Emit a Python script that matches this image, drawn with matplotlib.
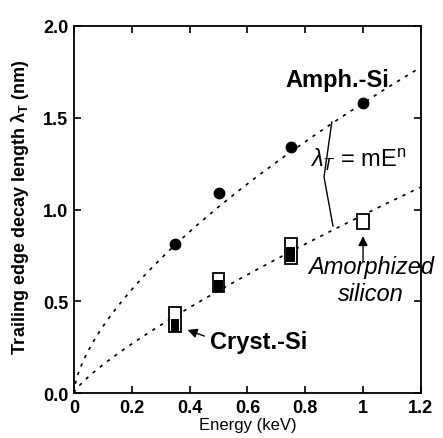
import numpy as np
import matplotlib
matplotlib.use("Agg")
import matplotlib.pyplot as plt

plt.rcParams['font.family'] = ['Liberation Sans', 'DejaVu Sans']
plt.rcParams['mathtext.fontset'] = 'custom'
plt.rcParams['mathtext.rm'] = 'Liberation Sans'
plt.rcParams['mathtext.it'] = 'Liberation Sans:italic'
plt.rcParams['mathtext.bf'] = 'Liberation Sans:bold'

# Amorphous (Amph.-Si) data, filled circles
amph_energy = [0.35, 0.5, 0.75, 1.0]
amph_decay = [0.81, 1.09, 1.34, 1.58]

# Amorphized silicon, open boxes (low / high)
amor_energy = [0.35, 0.5, 0.75, 1.0]
amor_low = [0.332, 0.55, 0.703, 0.894]
amor_high = [0.469, 0.654, 0.845, 0.975]

# Crystalline Si, filled boxes (low / high)
cryst_energy = [0.35, 0.5, 0.75]
cryst_low = [0.332, 0.55, 0.714]
cryst_high = [0.403, 0.616, 0.796]

# power law fits lambda = m E^n
amph_m, amph_n = 1.58, 0.64
cryst_m, cryst_n = 0.97, 0.80

fig = plt.figure(figsize=(4.43, 4.39), dpi=100)
ax = fig.add_axes([0.167, 0.1025, 0.783, 0.836])

e = np.linspace(0, 1.2, 300)
ax.plot(e, amph_m * e ** amph_n, color='black', lw=1.2, linestyle=(0, (2, 3.5)))
ax.plot(e, cryst_m * e ** cryst_n, color='black', lw=1.2, linestyle=(0, (2, 3.5)))

ax.plot(amph_energy, amph_decay, 'o', color='black', markersize=7.5)

amor_h = np.array(amor_high) - np.array(amor_low)
cryst_h = np.array(cryst_high) - np.array(cryst_low)
ax.bar(amor_energy, amor_h, bottom=amor_low, width=0.04, facecolor='white',
       edgecolor='black', linewidth=1.3, zorder=3)
ax.bar(cryst_energy, cryst_h, bottom=cryst_low, width=0.03, facecolor='black',
       edgecolor='black', linewidth=0, zorder=4)

ax.set_xlim(0, 1.2)
ax.set_ylim(0, 2.0)
ax.set_xticks([0, 0.2, 0.4, 0.6, 0.8, 1.0, 1.2])
ax.set_xticklabels(['0', '0.2', '0.4', '0.6', '0.8', '1', '1.2'])
ax.set_yticks([0, 0.5, 1.0, 1.5, 2.0])
ax.set_yticklabels(['0.0', '0.5', '1.0', '1.5', '2.0'])
ax.tick_params(direction='in', length=5, width=1.2, top=True, right=True,
               labelsize=13, pad=4)
for lab in ax.get_xticklabels() + ax.get_yticklabels():
    lab.set_fontweight('bold')
for s in ax.spines.values():
    s.set_linewidth(1.3)

ax.set_xlabel('Energy (keV)', fontsize=12, labelpad=1)
ax.set_ylabel(r'Trailing edge decay length $\mathbf{\lambda_T}$ (nm)', fontsize=13,
              fontweight='bold')
ax.yaxis.set_label_coords(-0.125, 0.51)

ax.text(0.91, 1.71, 'Amph.-Si', fontsize=17, fontweight='bold', ha='center', va='center')
ax.text(0.815, 1.275, r'$\lambda_T$ = mE$^\mathrm{n}$', fontsize=17, ha='left', va='center')
ax.plot([0.892, 0.865, 0.896], [1.477, 1.177, 0.910], color='black', lw=1)

ax.text(0.47, 0.28, 'Cryst.-Si', fontsize=17, fontweight='bold', ha='left', va='center')
ax.annotate('', xy=(0.384, 0.349), xytext=(0.46, 0.305),
            arrowprops=dict(arrowstyle='-|>', color='black', lw=1, mutation_scale=14))

ax.annotate('', xy=(1.0, 0.87), xytext=(1.0, 0.703),
            arrowprops=dict(arrowstyle='-|>', color='black', lw=1, mutation_scale=14))
ax.text(1.027, 0.692, 'Amorphized', fontsize=17, style='italic', ha='center', va='center')
ax.text(1.027, 0.54, 'silicon', fontsize=17, style='italic', ha='center', va='center')

fig.savefig('out.png', dpi=100)
